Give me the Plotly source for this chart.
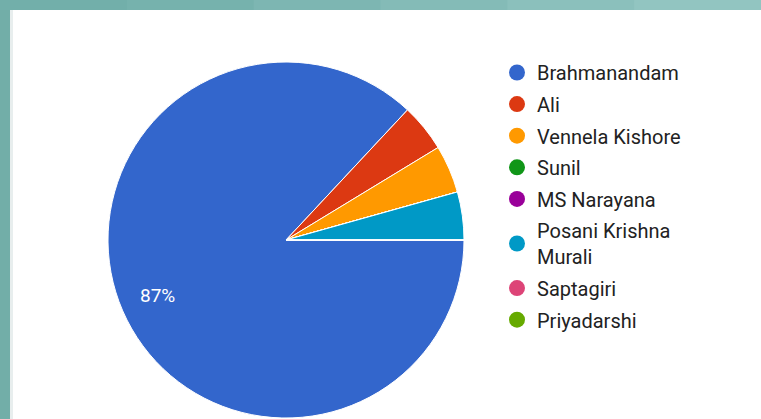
import math
import plotly.graph_objects as go

labels = ["Brahmanandam", "Ali", "Vennela Kishore", "Sunil", "MS Narayana",
          "Posani Krishna Murali", "Saptagiri", "Priyadarshi"]
legend_names = ["Brahmanandam", "Ali", "Vennela Kishore", "Sunil", "MS Narayana",
                "Posani Krishna<br>Murali", "Saptagiri", "Priyadarshi"]
votes = [20, 1, 1, 0, 0, 1, 0, 0]
colors = ["#3366CC", "#DC3912", "#FF9900", "#109618", "#990099",
          "#0099C6", "#DD4477", "#66AA00"]

W, H = 761, 419
CX, CY, R = 286, 240, 178          # pie centre / radius in pixels
ROT = 90                           # first slice starts at 3 o'clock
total = sum(votes)

fig = go.Figure()
fig.add_trace(go.Pie(
    labels=labels, values=votes, sort=False, direction="clockwise", rotation=ROT,
    marker=dict(colors=colors, line=dict(color="white", width=1)),
    textinfo="none", hoverinfo="label+percent", showlegend=False,
    domain=dict(x=[(CX - R) / W, (CX + R) / W], y=[1 - (CY + R) / H, 1 - (CY - R) / H]),
))

# percentage labels for large slices, placed at the slice mid-angle
annotations = []
cum = 0
for v in votes:
    frac = v / total
    if frac > 0.1:
        mid = math.radians(ROT + (cum + frac / 2) * 360)
        px = CX + 0.787 * R * math.sin(mid)
        py = CY - 0.787 * R * math.cos(mid)
        annotations.append(dict(x=px / W, y=1 - py / H, xref="paper", yref="paper",
                                xanchor="center", yanchor="middle",
                                text=f"{round(frac * 100)}%", showarrow=False,
                                font=dict(color="white", size=19, family="Roboto")))
    cum += frac

for i, (name, c) in enumerate(zip(legend_names, colors)):
    fig.add_trace(go.Scatter(
        x=[None], y=[None], mode="markers", name=name, legendgroup=str(i),
        marker=dict(symbol="circle", size=19, color=c),
    ))

shapes = [
    dict(type="rect", xref="paper", yref="paper", x0=0, x1=10 / W, y0=0, y1=1,
         fillcolor="#72AEA8", line=dict(width=0), layer="above"),
    dict(type="rect", xref="paper", yref="paper", x0=10 / W, x1=13 / W, y0=0, y1=1 - 10 / H,
         fillcolor="#E8EEEE", line=dict(width=0), layer="above"),
]
top_cols = ["#72AFAA", "#76B2AD", "#7DB6B2", "#84BBB7", "#8BC0BC", "#92C5C1"]
n = len(top_cols)
for k, c in enumerate(top_cols):
    shapes.append(dict(type="rect", xref="paper", yref="paper",
                       x0=k / n, x1=min(1, (k + 1) / n + 0.01), y0=1 - 10 / H, y1=1,
                       fillcolor=c, line=dict(width=0), layer="above"))

fig.update_layout(
    width=W, height=H,
    margin=dict(l=0, r=0, t=0, b=0),
    paper_bgcolor="white", plot_bgcolor="white",
    xaxis=dict(visible=False), yaxis=dict(visible=False),
    shapes=shapes, annotations=annotations,
    legend=dict(x=497 / W, y=1 - 53 / H, xanchor="left", yanchor="top",
                font=dict(family="Roboto", size=20, color="#222222"),
                tracegroupgap=2.6, itemsizing="trace", bgcolor="rgba(0,0,0,0)"),
    font=dict(family="Roboto"),
)

fig.write_html("out.html", config={"displayModeBar": False},
               post_script="document.body.style.margin='0px';")
